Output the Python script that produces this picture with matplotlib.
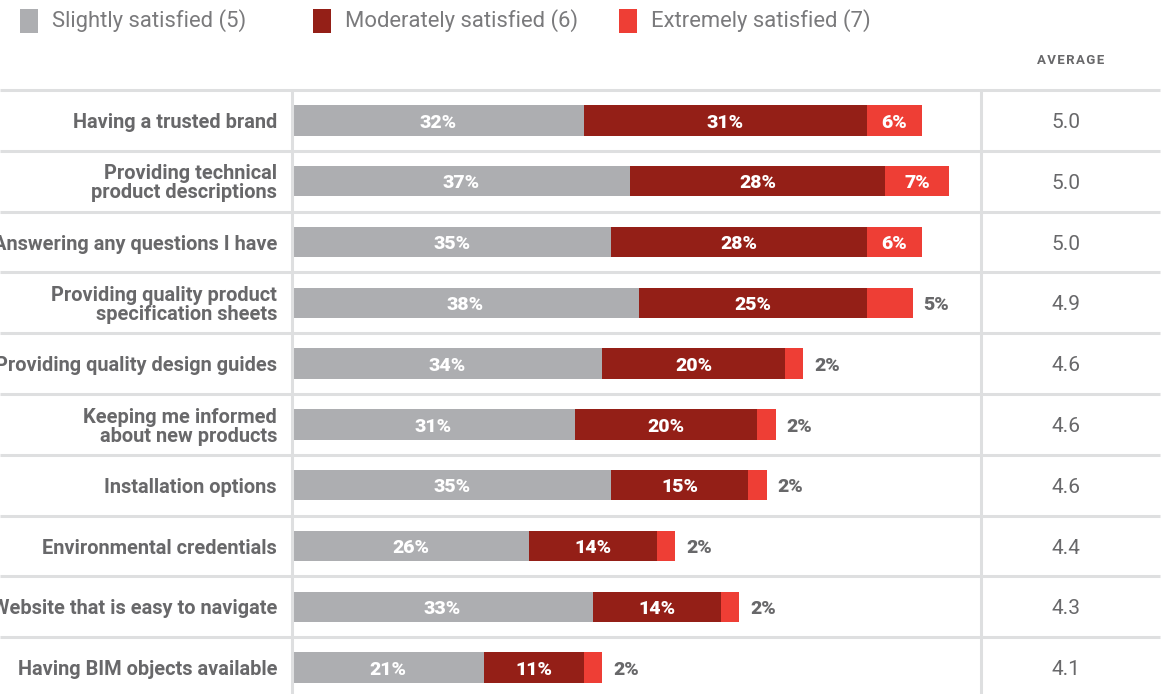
import numpy as np
import matplotlib
matplotlib.use('Agg')
import matplotlib.pyplot as plt
from matplotlib.patches import Rectangle
from matplotlib.transforms import blended_transform_factory

plt.rcParams['font.family'] = ['Roboto', 'DejaVu Sans']

labels = ['Having a trusted brand',
          'Providing technical\nproduct descriptions',
          'Answering any questions I have',
          'Providing quality product\nspecification sheets',
          'Providing quality design guides',
          'Keeping me informed\nabout new products',
          'Installation options',
          'Environmental credentials',
          'Website that is easy to navigate',
          'Having BIM objects available']
slight = [32, 37, 35, 38, 34, 31, 35, 26, 33, 21]
moderate = [31, 28, 28, 25, 20, 20, 15, 14, 14, 11]
extreme = [6, 7, 6, 5, 2, 2, 2, 2, 2, 2]
averages = [5.0, 5.0, 5.0, 4.9, 4.6, 4.6, 4.6, 4.4, 4.3, 4.1]
series_names = ['Slightly satisfied (5)', 'Moderately satisfied (6)', 'Extremely satisfied (7)']

GRAY = '#adaeb1'
DARK = '#941f17'
RED = '#ee3e35'
TXT = '#68686a'
LINE = '#dedfe0'

W, H = 1166, 694
fig = plt.figure(figsize=(W / 100, H / 100), dpi=100)
# axes from x=292 to x=981 px, y=90 to bottom
ax = fig.add_axes([292 / W, 0, (981 - 292) / W, (H - 90) / H])
ax.set_xlim(0, (981 - 292) / 9.125)
ax.set_ylim(-0.5 + (H - 90) / 60.8, -0.5)
ax.axis('off')

y = np.arange(len(labels))
ax.barh(y, slight, height=0.5, color=GRAY)
ax.barh(y, moderate, left=slight, height=0.5, color=DARK)
left3 = np.array(slight) + np.array(moderate)
ax.barh(y, extreme, left=left3, height=0.5, color=RED)

fs = 14
dy = 0.035
for i in y:
    ax.text(slight[i] / 2, i + dy, f'{slight[i]}%', ha='center', va='center',
            color='white', fontsize=fs, fontweight='heavy')
    ax.text(slight[i] + moderate[i] / 2, i + dy, f'{moderate[i]}%', ha='center',
            va='center', color='white', fontsize=fs, fontweight='heavy')
    if extreme[i] >= 6:
        ax.text(left3[i] + extreme[i] / 2, i + dy, f'{extreme[i]}%', ha='center',
                va='center', color='white', fontsize=fs, fontweight='heavy')
    else:
        ax.text(left3[i] + extreme[i] + 1.2, i + dy, f'{extreme[i]}%', ha='left',
                va='center', color=TXT, fontsize=fs, fontweight='heavy')

# row labels and averages in figure-x / data-y coordinates
tr = blended_transform_factory(fig.transFigure, ax.transData)
for i in y:
    ax.text(277 / W, i + dy, labels[i], transform=tr, ha='right', va='center',
            color=TXT, fontsize=14.4, fontweight='bold', linespacing=1.0)
    ax.text(1066 / W, i + dy, f'{averages[i]:.1f}', transform=tr, ha='center',
            va='center', color=TXT, fontsize=15)

# separator lines
for b in np.arange(len(labels)) - 0.5:
    ax.plot([0, 1160 / W], [b, b], transform=tr, color=LINE, lw=2.2,
            clip_on=False, solid_capstyle='butt')
for xp in (292, 981):
    ax.plot([xp / W, xp / W], [-0.5, 10], transform=tr, color=LINE, lw=2.2,
            clip_on=False, solid_capstyle='butt')

fig.text(1071 / W, 1 - 60 / H, '\u200a'.join('AVERAGE'), ha='center',
         va='center', color=TXT, fontsize=9.5, fontweight='bold')

# legend
for x0, name, c in zip([20, 313, 619], series_names, [GRAY, DARK, RED]):
    fig.add_artist(Rectangle((x0 / W, 1 - 33 / H), 18 / W, 24 / H,
                             transform=fig.transFigure, color=c, lw=0))
    fig.text((x0 + 32) / W, 1 - 21 / H, name, ha='left', va='center',
             color='#7a7a7c', fontsize=15.8)

fig.savefig('out.png', dpi=100)
